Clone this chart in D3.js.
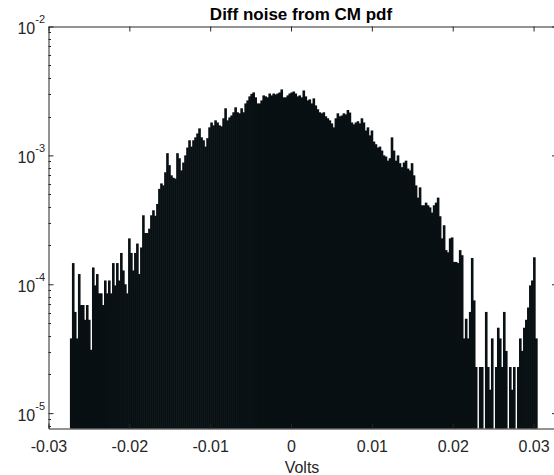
<!DOCTYPE html>
<html lang="en">
<head>
<meta charset="utf-8">
<script src="https://d3js.org/d3.v7.min.js"></script>
<style type="text/css">
body {
    margin: 0;
    background: #fff;
    font-family: "Liberation Sans", Arial, sans-serif;
}
.axis path, .axis line {
    stroke: #262626;
    stroke-width: 1;
}
.axis text {
    fill: #262626;
    font-size: 16px;
    font-family: "Liberation Sans", Arial, sans-serif;
}
</style>
</head>
<body>
<div id="chart"></div>
<script type="text/javascript">

// histogram bins (Volts) and probability per bin
var binStart = -0.02735;
var binWidth = 0.000248;
var pdfValues = [
    3.8e-5, 1.46e-4, 6.1e-5, 3.8e-5, 1.2e-4, 6.9e-5, 6.9e-5, 5.3e-5, 6.9e-5, 5.3e-5,
    3.1e-5, 1.35e-4, 9.8e-5, 1.2e-4, 8.5e-5, 8.5e-5, 6.9e-5, 1.07e-4, 8.5e-5, 1.07e-4,
    8.5e-5, 1.46e-4, 9.8e-5, 1.46e-4, 1.07e-4, 1.75e-4, 1.28e-4, 1.0e-4, 8.5e-5, 2.27e-4,
    1.75e-4, 1.28e-4, 1.75e-4, 2.07e-4, 1.2e-4, 1.93e-4, 3.43e-4, 2.5e-4, 2.5e-4, 2.7e-4,
    3.43e-4, 3.75e-4, 3.4e-4, 4.2e-4, 5.5e-4, 6.06e-4, 5.85e-4, 7.4e-4, 1.04e-3, 8.4e-4,
    7.0e-4, 6.7e-4, 6.6e-4, 1.04e-3, 9.5e-4, 7.65e-4, 8.8e-4, 1.0e-3, 1.15e-3, 1.31e-3,
    1.17e-3, 1.31e-3, 1.38e-3, 1.48e-3, 1.62e-3, 1.38e-3, 1.31e-3, 1.17e-3, 1.36e-3, 1.65e-3,
    1.80e-3, 1.71e-3, 1.87e-3, 1.80e-3, 1.71e-3, 1.68e-3, 1.94e-3, 2.32e-3, 1.87e-3, 1.97e-3,
    2.04e-3, 2.16e-3, 2.36e-3, 2.16e-3, 2.12e-3, 2.32e-3, 2.16e-3, 2.53e-3, 2.67e-3, 2.87e-3,
    3.0e-3, 3.08e-3, 2.82e-3, 2.53e-3, 2.53e-3, 2.67e-3, 2.92e-3, 2.87e-3, 2.82e-3, 3.02e-3,
    2.92e-3, 3.02e-3, 2.97e-3, 3.02e-3, 3.08e-3, 3.25e-3, 2.82e-3, 2.82e-3, 2.92e-3, 3.02e-3,
    3.08e-3, 3.13e-3, 3.02e-3, 2.87e-3, 2.92e-3, 2.82e-3, 3.19e-3, 2.87e-3, 2.67e-3, 2.72e-3,
    2.53e-3, 2.77e-3, 2.44e-3, 2.28e-3, 2.16e-3, 2.12e-3, 2.16e-3, 2.01e-3, 1.94e-3, 1.87e-3,
    1.77e-3, 1.65e-3, 1.94e-3, 2.12e-3, 2.01e-3, 2.04e-3, 2.12e-3, 2.08e-3, 2.25e-3, 2.15e-3,
    1.80e-3, 1.74e-3, 1.80e-3, 1.84e-3, 1.77e-3, 1.94e-3, 1.80e-3, 1.56e-3, 1.65e-3, 1.43e-3,
    1.56e-3, 1.28e-3, 1.22e-3, 1.15e-3, 1.17e-3, 1.09e-3, 1.0e-3, 9.8e-4, 9.1e-4, 9.5e-4,
    1.38e-3, 1.09e-3, 9.1e-4, 1.0e-3, 8.7e-4, 8.1e-4, 8.8e-4, 9.1e-4, 7.9e-4, 7.65e-4,
    8.7e-4, 7.0e-4, 5.85e-4, 4.7e-4, 5.65e-4, 4.1e-4, 4.1e-4, 4.3e-4, 4.1e-4, 3.95e-4,
    3.6e-4, 4.1e-4, 4.3e-4, 4.7e-4, 3.37e-4, 2.27e-4, 2.87e-4, 1.84e-4, 1.77e-4, 2.27e-4,
    2.31e-4, 1.49e-4, 1.49e-4, 1.46e-4, 1.84e-4, 1.68e-4, 3.8e-5, 5.4e-5, 3.8e-5, 6.1e-5,
    1.6e-4, 7.5e-5, 2.28e-5, 7.6e-6, 2.28e-5, 2.28e-5, 7.6e-6, 6.1e-5, 2.28e-5, 1.52e-5,
    3.8e-5, 7.6e-6, 2.28e-5, 4.6e-5, 3.8e-5, 2.28e-5, 6.1e-5, 3.04e-5, 7.6e-6, 2.28e-5,
    1.52e-5, 2.28e-5, 7.6e-6, 2.28e-5, 3.8e-5, 3.04e-5, 4.6e-5, 5.3e-5, 6.6e-5, 9.8e-5,
    1.07e-4, 1.62e-4, 3.8e-5
];

var xTicks = [-0.03, -0.02, -0.01, 0, 0.01, 0.02, 0.03];
var yTicks = [1e-5, 1e-4, 1e-3, 1e-2];
var yTickExp = ["-5", "-4", "-3", "-2"];

var width = 554;
var height = 475;
// plot box edges (px)
var boxLeft = 48.5, boxRight = 557, boxTop = 26.5, boxBottom = 428.5;
var yMin = 7.6e-6, yMax = 1e-2;

var x = d3.scaleLinear().domain([-0.03, 0.0329]).range([boxLeft, boxRight]);
var y = d3.scaleLog().domain([yMin, yMax]).range([boxBottom, boxTop]);

var svg = d3.select("#chart")
    .append("svg")
    .attr("width", width)
    .attr("height", height);

// bars (slight overlap so no seams show between neighbours)
svg.append("g")
    .selectAll("rect")
    .data(pdfValues)
    .enter()
    .append("rect")
    .attr("x", function(d, i) { return x(binStart + i * binWidth); })
    .attr("width", function(d, i) {
        return x(binStart + (i + 1) * binWidth) - x(binStart + i * binWidth) + 0.6;
    })
    .attr("y", function(d) { return y(Math.max(d, yMin)); })
    .attr("height", function(d) { return y(yMin) - y(Math.max(d, yMin)); })
    .attr("fill", "#081013");

var fmt = function(d) { return d === 0 ? "0" : d.toFixed(2); };

// x axes (bottom with labels, top ticks only)
svg.append("g")
    .attr("class", "axis")
    .attr("transform", "translate(0," + boxBottom + ")")
    .call(d3.axisBottom(x).tickValues(xTicks).tickSize(-5).tickSizeOuter(0)
        .tickPadding(12).tickFormat(fmt));

svg.append("g")
    .attr("class", "axis")
    .attr("transform", "translate(0," + boxTop + ")")
    .call(d3.axisTop(x).tickValues(xTicks).tickSize(-5).tickSizeOuter(0).tickFormat(""));

// y axes
svg.append("g")
    .attr("class", "axis")
    .attr("transform", "translate(" + boxLeft + ",0)")
    .call(d3.axisLeft(y).tickValues(yTicks).tickSize(-5).tickSizeOuter(0).tickFormat(""));

svg.append("g")
    .attr("class", "axis")
    .attr("transform", "translate(" + boxRight + ",0)")
    .call(d3.axisRight(y).tickValues(yTicks).tickSize(-5).tickSizeOuter(0).tickFormat(""));

// minor log ticks
var minor = [];
for (var k = -6; k <= -3; k++) {
    for (var m = 2; m <= 9; m++) {
        var v = m * Math.pow(10, k);
        if (v > yMin && v < yMax) minor.push(v);
    }
}
svg.append("g").selectAll("line")
    .data(minor).enter().append("line")
    .attr("x1", boxLeft).attr("x2", boxLeft + 2.5)
    .attr("y1", function(d) { return Math.round(y(d)) + 0.5; })
    .attr("y2", function(d) { return Math.round(y(d)) + 0.5; })
    .attr("stroke", "#262626");
svg.append("g").selectAll("line")
    .data(minor).enter().append("line")
    .attr("x1", boxRight).attr("x2", boxRight - 2.5)
    .attr("y1", function(d) { return Math.round(y(d)) + 0.5; })
    .attr("y2", function(d) { return Math.round(y(d)) + 0.5; })
    .attr("stroke", "#262626");

// y tick labels as 10^n
var ylab = svg.append("g")
    .selectAll("text")
    .data(yTicks)
    .enter()
    .append("text")
    .attr("x", 45)
    .attr("y", function(d) { return y(d) + 7.5; })
    .attr("text-anchor", "end")
    .attr("fill", "#262626")
    .style("font-size", "16px");
ylab.append("tspan").text("10");
ylab.append("tspan")
    .attr("dy", -11)
    .style("font-size", "11px")
    .text(function(d, i) { return yTickExp[i]; });

// title and x label
svg.append("text")
    .attr("x", 301)
    .attr("y", 20)
    .attr("text-anchor", "middle")
    .attr("fill", "#000")
    .style("font-size", "17px")
    .style("font-weight", "bold")
    .text("Diff noise from CM pdf");

svg.append("text")
    .attr("x", 302)
    .attr("y", 473)
    .attr("text-anchor", "middle")
    .attr("fill", "#262626")
    .style("font-size", "16px")
    .text("Volts");

</script>
</body>
</html>
